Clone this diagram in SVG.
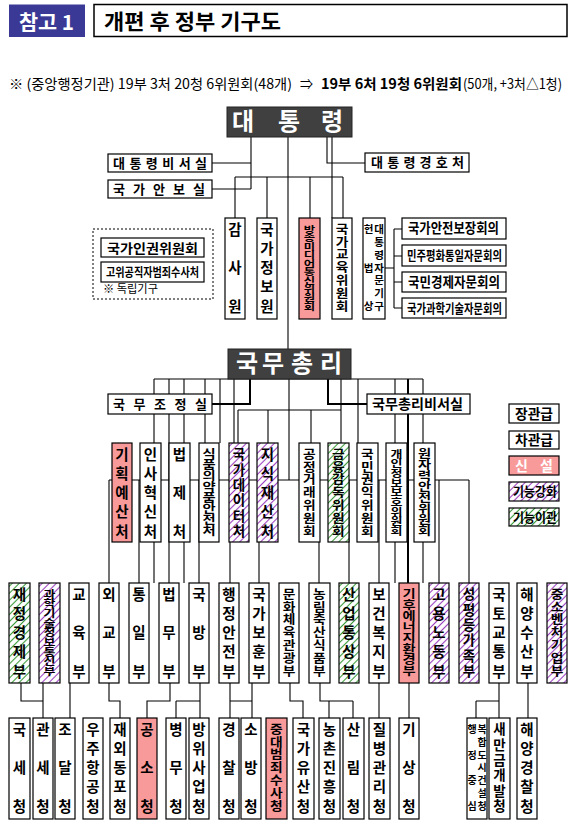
<svg xmlns="http://www.w3.org/2000/svg" width="571" height="827" viewBox="0 0 571 827">
<defs>
<pattern id="hp" width="5" height="5" patternUnits="userSpaceOnUse" patternTransform="rotate(-45)"><rect width="5" height="5" fill="#fff"/><line x1="0" y1="2.5" x2="5" y2="2.5" stroke="#9b3fbf" stroke-width="1.1"/></pattern>
<pattern id="hg" width="5" height="5" patternUnits="userSpaceOnUse" patternTransform="rotate(-45)"><rect width="5" height="5" fill="#fff"/><line x1="0" y1="2.5" x2="5" y2="2.5" stroke="#3a9a3a" stroke-width="1.1"/></pattern>
<style>
text{font-family:'Noto Sans CJK KR','Noto Sans',sans-serif;font-weight:700;fill:#000}
.v{text-anchor:middle}
.b{fill:#fff;stroke:#000;stroke-width:1.2}
.pk{fill:#f89a9a;stroke:#000;stroke-width:1.2}
.hp{fill:url(#hp);stroke:#000;stroke-width:1.2}
.hg{fill:url(#hg);stroke:#000;stroke-width:1.2}
.dk{fill:#404040;stroke:#222;stroke-width:1}
.w{fill:#fff}
.s145{font-size:14.5px}.s135{font-size:13.5px}.s125{font-size:12.5px}.s11{font-size:11px}.s10{font-size:10px}.s95{font-size:9.5px}.s9{font-size:10px}
#conn path{fill:none;stroke:#000;stroke-width:1.1}
#conn .t{stroke-width:2}
</style>
</defs>
<rect width="571" height="827" fill="#fff"/>

<g id="header">
<rect x="9" y="4.5" width="76" height="32.5" fill="#3a3a96"/>
<text x="19" y="29.5" font-size="20" class="w" style="fill:#fff" textLength="55" lengthAdjust="spacingAndGlyphs">참고 1</text>
<rect x="94" y="4.5" width="473" height="32" fill="#fff" stroke="#000" stroke-width="1.5"/>
<text x="104" y="29" font-size="21" textLength="177" lengthAdjust="spacingAndGlyphs">개편 후 정부 기구도</text>
<text x="9" y="88.5" font-size="14" style="font-weight:400" textLength="283" lengthAdjust="spacingAndGlyphs">※ (중앙행정기관) 19부 3처 20청 6위원회(48개)</text>
<text x="300" y="88.5" font-size="14" style="font-weight:400" textLength="13" lengthAdjust="spacingAndGlyphs">⇒</text>
<text x="321" y="88.5" font-size="14" textLength="141" lengthAdjust="spacingAndGlyphs">19부 6처 19청 6위원회</text>
<text x="463" y="88.5" font-size="14" style="font-weight:400" textLength="99" lengthAdjust="spacingAndGlyphs">(50개, +3처△1청)</text>
</g>

<g id="conn">
<path d="M251,137V189M212,163H251M212,189H251"/>
<path d="M288,137V349"/>
<path d="M327,137V163H365"/>
<path d="M332,137V218M235,177H343M235,177V218M267,177V218M310,177V218M343,177V218"/>
<path d="M385,268H394M394,229V308M394,229H402M394,256H402M394,282H402M394,308H402"/>
<path d="M154,379H423"/>
<path d="M154,379V583M169,379V583M184,379V583M205,379V443M220,379V443M234,379V443"/>
<path class="t" d="M250,379V404H212"/>
<path d="M238,410H341M238,410V443M268,410V443M311,410V443M341,379V443"/>
<path d="M289,379V480"/>
<path class="t" d="M328,379V404H367"/>
<path d="M358,379V443M395,379V583M423,379V583"/>
<path class="t" d="M408,379V583"/>
<path d="M109,480H469M109,480V583M139,480V583M199,480V583M230,480V583M259,480V583M319,480V583M349,480V583M379,480V583M439,480V583M469,480V583"/>
<path d="M21,683V701H43M43,683V718M70,683V718"/>
<path d="M109,683V701H120V718"/>
<path d="M170,683V701H147V718"/>
<path d="M200,683V718M176,701H200M176,701V718"/>
<path d="M230,683V718M230,701H252M252,683V718"/>
<path d="M290,683V701H303V718"/>
<path d="M320,683V701H353M329,701V718M353,701V718"/>
<path d="M379,683V718M409,683V718"/>
<path d="M499,683V718M476,701H499M476,701V718"/>
<path d="M528,683V718"/>
</g>

<g id="president"><rect class="dk" x="227" y="107" width="125" height="30"/><text class="v" style="fill:#fff" font-size="24" x="243 289 332" y="130">대통령</text></g>
<g id="secretariat"><rect class="b" x="108" y="154" width="104" height="18"/><text x="113" y="167.8" font-size="13" textLength="94" lengthAdjust="spacing">대 통 령 비 서 실</text></g>
<g id="nso"><rect class="b" x="108" y="180" width="104" height="18"/><text x="113" y="193.8" font-size="13" textLength="92" lengthAdjust="spacing">국 가 안 보 실</text></g>
<g id="pss"><rect class="b" x="365" y="153" width="104" height="19"/><text x="371" y="167.3" font-size="13" textLength="93" lengthAdjust="spacing">대 통 령 경 호 처</text></g>

<g id="independent">
<rect x="93" y="229" width="120" height="70" fill="none" stroke="#000" stroke-width="1" stroke-dasharray="2 2"/>
<rect class="b" x="101" y="238" width="103" height="19"/><text x="107" y="252.5" font-size="13" textLength="91" lengthAdjust="spacingAndGlyphs">국가인권위원회</text>
<rect class="b" x="101" y="262" width="103" height="20"/><text x="106" y="276.5" font-size="12" textLength="93" lengthAdjust="spacingAndGlyphs">고위공직자범죄수사처</text>
<text x="103" y="293" font-size="11.5" style="font-weight:400" textLength="55" lengthAdjust="spacingAndGlyphs">※ 독립기구</text>
</g>

<g id="n-bai" transform="translate(225,218)"><rect class="b" width="20" height="101"/><text class="v s145" x="10 10 10" y="16.5 55 93.5">감사원</text></g>
<g id="n-nis" transform="translate(257,218)"><rect class="b" width="20" height="101"/><text class="v s145" x="10 10 10 10 10" y="16.5 35.8 55 74.3 93.5">국가정보원</text></g>
<g id="n-kcc" transform="translate(299,218)"><rect class="pk" width="21" height="101"/><text class="v s95" transform="scale(1.3,1)" x="8.1 8.1 8.1 8.1 8.1 8.1 8.1 8.1 8.1 8.1" y="14.6 23.2 31.7 40.3 48.8 57.4 65.9 74.5 83 91.6">방송미디어통신위원회</text></g>
<g id="n-nec" transform="translate(332,218)"><rect class="b" width="20" height="101"/><text class="v s125" transform="scale(1.1,1)" x="9.1 9.1 9.1 9.1 9.1 9.1 9.1" y="15.8 28.6 41.4 54.3 67.1 79.9 92.8">국가교육위원회</text></g>
<g id="n-const" transform="translate(363,218)"><rect class="b" width="22" height="101"/><text class="v" font-size="10.5" x="5.5 5.5 5.5" y="15 53.5 92">헌법상</text><text class="v" font-size="10.5" x="16 16 16 16 16 16 16" y="15 27.8 40.7 53.5 66.3 79.2 92">대통령자문기구</text></g>
<g id="n-nsc"><rect class="b" x="402" y="218" width="104" height="21"/><text x="408" y="233.4" font-size="14" textLength="91" lengthAdjust="spacingAndGlyphs">국가안전보장회의</text></g>
<g id="n-puac"><rect class="b" x="402" y="245" width="104" height="21"/><text x="407" y="260" font-size="13" textLength="95" lengthAdjust="spacingAndGlyphs">민주평화통일자문회의</text></g>
<g id="n-nesc"><rect class="b" x="402" y="272" width="104" height="20"/><text x="408" y="287" font-size="14" textLength="92" lengthAdjust="spacingAndGlyphs">국민경제자문회의</text></g>
<g id="n-pacst"><rect class="b" x="402" y="298" width="104" height="20"/><text x="407" y="312.8" font-size="13" textLength="95" lengthAdjust="spacingAndGlyphs">국가과학기술자문회의</text></g>

<g id="pm"><rect class="dk" x="228" y="349" width="123" height="30"/><text class="v" style="fill:#fff" font-size="24" x="247 273 302 331" y="372">국무총리</text></g>
<g id="opc"><rect class="b" x="108" y="394" width="104" height="20"/><text x="113" y="408.8" font-size="13" textLength="94" lengthAdjust="spacing">국 무 조 정 실</text></g>
<g id="pmsec"><rect class="b" x="367" y="394" width="103" height="20"/><text x="372" y="409" font-size="14" textLength="91" lengthAdjust="spacingAndGlyphs">국무총리비서실</text></g>

<g id="n-mpb" transform="translate(112,443)"><rect class="pk" width="20" height="99"/><text class="v s145" x="10 10 10 10 10" y="16.5 35.8 55 74.3 93.5">기획예산처</text></g>
<g id="n-mpm" transform="translate(140,443)"><rect class="b" width="21" height="99"/><text class="v s145" x="10.5 10.5 10.5 10.5 10.5" y="16.5 35.8 55 74.3 93.5">인사혁신처</text></g>
<g id="n-moleg" transform="translate(169,443)"><rect class="b" width="21" height="99"/><text class="v s145" x="10.5 10.5 10.5" y="16.5 55 93.5">법제처</text></g>
<g id="n-mfds" transform="translate(199,443)"><rect class="b" width="20" height="99"/><text class="v s11" transform="scale(1.3,1)" x="7.7 7.7 7.7 7.7 7.7 7.7 7.7 7.7" y="15.2 26.2 37.2 48.2 59.2 70.2 81.2 92.2">식품의약품안전처</text></g>
<g id="n-data" transform="translate(229,443)"><rect class="hp" width="20" height="99"/><text class="v s135" x="10 10 10 10 10 10" y="16.1 31.5 46.9 62.3 77.7 93.1">국가데이터처</text></g>
<g id="n-kipo" transform="translate(257,443)"><rect class="hp" width="21" height="99"/><text class="v s145" x="10.5 10.5 10.5 10.5 10.5" y="16.5 35.8 55 74.3 93.5">지식재산처</text></g>
<g id="n-ftc" transform="translate(299,443)"><rect class="b" width="21" height="99"/><text class="v s125" transform="scale(1.1,1)" x="9.5 9.5 9.5 9.5 9.5 9.5 9.5" y="15.8 28.6 41.4 54.3 67.1 79.9 92.8">공정거래위원회</text></g>
<g id="n-fsc" transform="translate(328,443)"><rect class="hg" width="21" height="99"/><text class="v s125" transform="scale(1.1,1)" x="9.5 9.5 9.5 9.5 9.5 9.5 9.5" y="15.8 28.6 41.4 54.3 67.1 79.9 92.8">금융감독위원회</text></g>
<g id="n-acrc" transform="translate(357,443)"><rect class="b" width="21" height="99"/><text class="v s125" transform="scale(1.1,1)" x="9.5 9.5 9.5 9.5 9.5 9.5 9.5" y="15.8 28.6 41.4 54.3 67.1 79.9 92.8">국민권익위원회</text></g>
<g id="n-pipc" transform="translate(386,443)"><rect class="b" width="21" height="99"/><text class="v s10" transform="scale(1.3,1)" x="8.1 8.1 8.1 8.1 8.1 8.1 8.1 8.1 8.1" y="14.8 24.4 34.1 43.7 53.3 62.9 72.6 82.2 91.8">개인정보보호위원회</text></g>
<g id="n-nssc" transform="translate(414,443)"><rect class="b" width="21" height="99"/><text class="v s11" transform="scale(1.3,1)" x="8.1 8.1 8.1 8.1 8.1 8.1 8.1 8.1" y="15.2 26.2 37.2 48.2 59.2 70.2 81.2 92.2">원자력안전위원회</text></g>

<g id="legend">
<rect class="b" x="509" y="404" width="50" height="19"/><text x="515" y="418.8" font-size="14" textLength="38" lengthAdjust="spacingAndGlyphs">장관급</text>
<rect class="b" x="509" y="431" width="50" height="18"/><text x="515" y="445.3" font-size="14" textLength="38" lengthAdjust="spacingAndGlyphs">차관급</text>
<rect class="pk" x="509" y="456" width="50" height="19"/><text x="515" y="470.8" font-size="14" style="fill:#fff" textLength="38" lengthAdjust="spacing">신 설</text>
<rect class="hp" x="509" y="482" width="50" height="19"/><text x="513" y="496.4" font-size="13" textLength="44" lengthAdjust="spacingAndGlyphs">기능강화</text>
<rect class="hg" x="509" y="508" width="50" height="18"/><text x="513" y="521.9" font-size="13" textLength="44" lengthAdjust="spacingAndGlyphs">기능이관</text>
</g>

<g id="n-moef" transform="translate(9,583)"><rect class="hg" width="21" height="100"/><text class="v s145" x="10.5 10.5 10.5 10.5 10.5" y="16.5 35.8 55 74.3 93.5">재정경제부</text></g>
<g id="n-msit" transform="translate(39,583)"><rect class="hp" width="21" height="100"/><text class="v s10" transform="scale(1.3,1)" x="8.1 8.1 8.1 8.1 8.1 8.1 8.1 8.1 8.1" y="14.8 24.4 34.1 43.7 53.3 62.9 72.6 82.2 91.8">과학기술정보통신부</text></g>
<g id="n-moe" transform="translate(69,583)"><rect class="b" width="20" height="100"/><text class="v s145" x="10 10 10" y="16.5 55 93.5">교육부</text></g>
<g id="n-mofa" transform="translate(99,583)"><rect class="b" width="20" height="100"/><text class="v s145" x="10 10 10" y="16.5 55 93.5">외교부</text></g>
<g id="n-mou" transform="translate(129,583)"><rect class="b" width="20" height="100"/><text class="v s145" x="10 10 10" y="16.5 55 93.5">통일부</text></g>
<g id="n-moj" transform="translate(159,583)"><rect class="b" width="20" height="100"/><text class="v s145" x="10 10 10" y="16.5 55 93.5">법무부</text></g>
<g id="n-mnd" transform="translate(189,583)"><rect class="b" width="20" height="100"/><text class="v s145" x="10 10 10" y="16.5 55 93.5">국방부</text></g>
<g id="n-mois" transform="translate(219,583)"><rect class="b" width="20" height="100"/><text class="v s145" x="10 10 10 10 10" y="16.5 35.8 55 74.3 93.5">행정안전부</text></g>
<g id="n-mpva" transform="translate(249,583)"><rect class="b" width="20" height="100"/><text class="v s145" x="10 10 10 10 10" y="16.5 35.8 55 74.3 93.5">국가보훈부</text></g>
<g id="n-mcst" transform="translate(279,583)"><rect class="b" width="20" height="100"/><text class="v s125" transform="scale(1.1,1)" x="9.1 9.1 9.1 9.1 9.1 9.1 9.1" y="15.8 28.6 41.4 54.3 67.1 79.9 92.8">문화체육관광부</text></g>
<g id="n-mafra" transform="translate(309,583)"><rect class="b" width="21" height="100"/><text class="v s125" transform="scale(1.1,1)" x="9.5 9.5 9.5 9.5 9.5 9.5 9.5" y="15.8 28.6 41.4 54.3 67.1 79.9 92.8">농림축산식품부</text></g>
<g id="n-motie" transform="translate(339,583)"><rect class="hg" width="20" height="100"/><text class="v s145" x="10 10 10 10 10" y="16.5 35.8 55 74.3 93.5">산업통상부</text></g>
<g id="n-mohw" transform="translate(369,583)"><rect class="b" width="20" height="100"/><text class="v s145" x="10 10 10 10 10" y="16.5 35.8 55 74.3 93.5">보건복지부</text></g>
<g id="n-mcee" transform="translate(399,583)"><rect class="pk" width="20" height="100"/><text class="v s11" transform="scale(1.3,1)" x="7.7 7.7 7.7 7.7 7.7 7.7 7.7 7.7" y="15.2 26.2 37.2 48.2 59.2 70.2 81.2 92.2">기후에너지환경부</text></g>
<g id="n-moel" transform="translate(429,583)"><rect class="hp" width="20" height="100"/><text class="v s145" x="10 10 10 10 10" y="16.5 35.8 55 74.3 93.5">고용노동부</text></g>
<g id="n-mogef" transform="translate(459,583)"><rect class="hp" width="20" height="100"/><text class="v s135" x="10 10 10 10 10 10" y="16.1 31.5 46.9 62.3 77.7 93.1">성평등가족부</text></g>
<g id="n-molit" transform="translate(489,583)"><rect class="b" width="20" height="100"/><text class="v s145" x="10 10 10 10 10" y="16.5 35.8 55 74.3 93.5">국토교통부</text></g>
<g id="n-mof" transform="translate(517,583)"><rect class="b" width="20" height="100"/><text class="v s145" x="10 10 10 10 10" y="16.5 35.8 55 74.3 93.5">해양수산부</text></g>
<g id="n-mss" transform="translate(547,583)"><rect class="hp" width="20" height="100"/><text class="v s125" transform="scale(1.1,1)" x="9.1 9.1 9.1 9.1 9.1 9.1 9.1" y="15.8 28.6 41.4 54.3 67.1 79.9 92.8">중소벤처기업부</text></g>

<g id="n-nts" transform="translate(9,718)"><rect class="b" width="21" height="101"/><text class="v s145" x="10.5 10.5 10.5" y="16.5 55 93.5">국세청</text></g>
<g id="n-kcs" transform="translate(33,718)"><rect class="b" width="20" height="101"/><text class="v s145" x="10 10 10" y="16.5 55 93.5">관세청</text></g>
<g id="n-pps" transform="translate(55,718)"><rect class="b" width="20" height="101"/><text class="v s145" x="10 10 10" y="16.5 55 93.5">조달청</text></g>
<g id="n-kasa" transform="translate(83,718)"><rect class="b" width="20" height="101"/><text class="v s145" x="10 10 10 10 10" y="16.5 35.8 55 74.3 93.5">우주항공청</text></g>
<g id="n-oka" transform="translate(110,718)"><rect class="b" width="20" height="101"/><text class="v s145" x="10 10 10 10 10" y="16.5 35.8 55 74.3 93.5">재외동포청</text></g>
<g id="n-pros" transform="translate(137,718)"><rect class="pk" width="20" height="101"/><text class="v s145" x="10 10 10" y="16.5 55 93.5">공소청</text></g>
<g id="n-mma" transform="translate(166,718)"><rect class="b" width="20" height="101"/><text class="v s145" x="10 10 10" y="16.5 55 93.5">병무청</text></g>
<g id="n-dapa" transform="translate(189,718)"><rect class="b" width="20" height="101"/><text class="v s145" x="10 10 10 10 10" y="16.5 35.8 55 74.3 93.5">방위사업청</text></g>
<g id="n-knpa" transform="translate(219,718)"><rect class="b" width="20" height="101"/><text class="v s145" x="10 10 10" y="16.5 55 93.5">경찰청</text></g>
<g id="n-nfa" transform="translate(241,718)"><rect class="b" width="20" height="101"/><text class="v s145" x="10 10 10" y="16.5 55 93.5">소방청</text></g>
<g id="n-scia" transform="translate(266,718)"><rect class="pk" width="21" height="101"/><text class="v s125" transform="scale(1.1,1)" x="9.5 9.5 9.5 9.5 9.5 9.5 9.5" y="15.8 28.6 41.4 54.3 67.1 79.9 92.8">중대범죄수사청</text></g>
<g id="n-kha" transform="translate(293,718)"><rect class="b" width="21" height="101"/><text class="v s145" x="10.5 10.5 10.5 10.5 10.5" y="16.5 35.8 55 74.3 93.5">국가유산청</text></g>
<g id="n-rda" transform="translate(319,718)"><rect class="b" width="21" height="101"/><text class="v s145" x="10.5 10.5 10.5 10.5 10.5" y="16.5 35.8 55 74.3 93.5">농촌진흥청</text></g>
<g id="n-kfs" transform="translate(343,718)"><rect class="b" width="21" height="101"/><text class="v s145" x="10.5 10.5 10.5" y="16.5 55 93.5">산림청</text></g>
<g id="n-kdca" transform="translate(369,718)"><rect class="b" width="21" height="101"/><text class="v s145" x="10.5 10.5 10.5 10.5 10.5" y="16.5 35.8 55 74.3 93.5">질병관리청</text></g>
<g id="n-kma" transform="translate(399,718)"><rect class="b" width="20" height="101"/><text class="v s145" x="10 10 10" y="16.5 55 93.5">기상청</text></g>
<g id="n-naacc" transform="translate(467,718)"><rect class="b" width="20" height="101"/><text class="v s9" x="5 5 5 5" y="14.8 40.5 66.1 91.8">행정중심</text><text class="v s9" x="15 15 15 15 15 15 15" y="14.8 27.6 40.5 53.3 66.1 79 91.8">복합도시건설청</text></g>
<g id="n-sdia" transform="translate(489,718)"><rect class="b" width="21" height="101"/><text class="v s135" x="10.5 10.5 10.5 10.5 10.5 10.5" y="16.1 31.5 46.9 62.3 77.7 93.1">새만금개발청</text></g>
<g id="n-kcg" transform="translate(517,718)"><rect class="b" width="20" height="101"/><text class="v s145" x="10 10 10 10 10" y="16.5 35.8 55 74.3 93.5">해양경찰청</text></g>
</svg>
